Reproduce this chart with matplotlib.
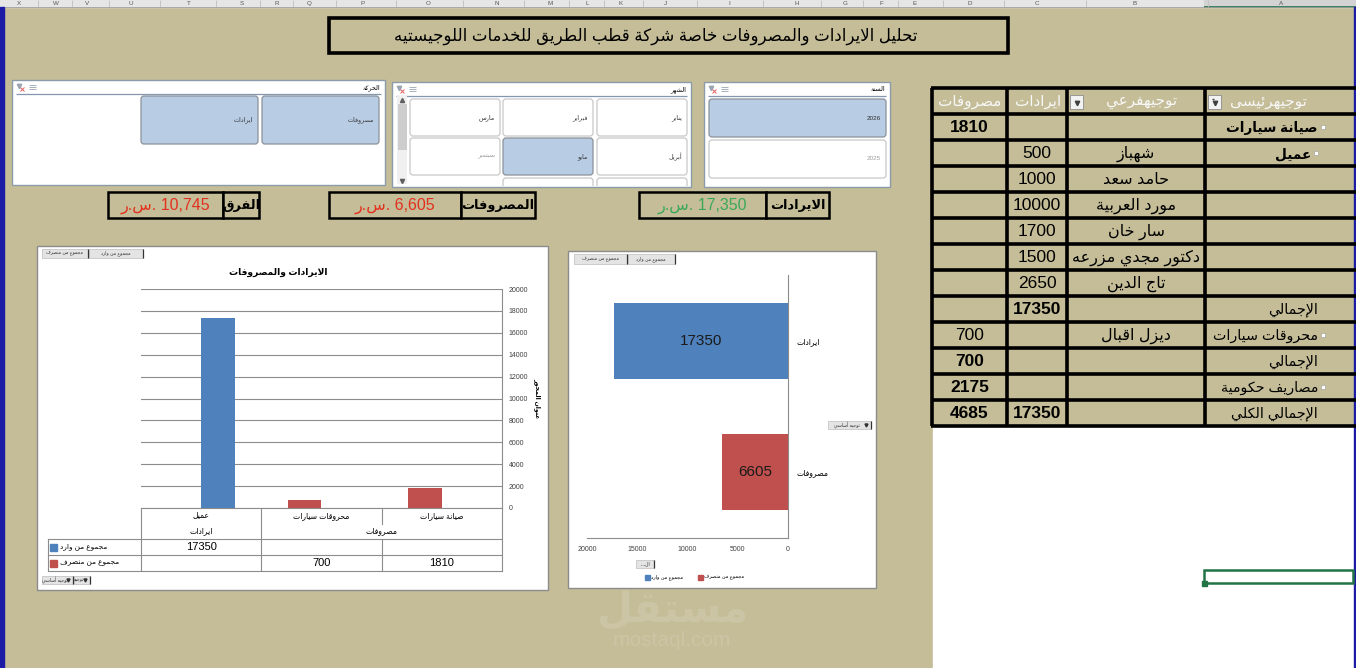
import matplotlib
matplotlib.use('Agg')
import matplotlib.pyplot as plt
from matplotlib.patches import Rectangle, FancyBboxPatch
from matplotlib.transforms import blended_transform_factory

plt.rcParams['font.family'] = ['Liberation Sans', 'DejaVu Sans']

# ---------------- Arabic shaping helper (presentation forms, visual order) -------------
_BASE = ['\u0621', '\u0622', '\u0623', '\u0624', '\u0625', '\u0626', '\u0627', '\u0628',
         '\u0629', '\u062A', '\u062B', '\u062C', '\u062D', '\u062E', '\u062F', '\u0630',
         '\u0631', '\u0632', '\u0633', '\u0634', '\u0635', '\u0636', '\u0637', '\u0638',
         '\u0639', '\u063A', '\u0641', '\u0642', '\u0643', '\u0644', '\u0645', '\u0646',
         '\u0647', '\u0648', '\u0649', '\u064A']
_NFORMS = [1, 2, 2, 2, 2, 4, 2, 4, 2, 4, 4, 4, 4, 4, 2, 2, 2, 2, 4, 4, 4, 4, 4, 4,
           4, 4, 4, 4, 4, 4, 4, 4, 4, 2, 2, 4]
_AR = {}
_code = 0xFE80
for _c, _n in zip(_BASE, _NFORMS):
    if _n == 1:
        _AR[_c] = (_code, None, None, None)
    elif _n == 2:
        _AR[_c] = (_code, _code + 1, None, None)
    else:
        _AR[_c] = (_code, _code + 1, _code + 2, _code + 3)
    _code += _n
_LAMALEF = {'\u0622': 0xFEF5, '\u0623': 0xFEF7, '\u0625': 0xFEF9, '\u0627': 0xFEFB}


def ar(s):
    out = []
    n = len(s)
    i = 0
    while i < n:
        c = s[i]
        if c not in _AR:
            out.append(c)
            i += 1
            continue
        prev = s[i - 1] if i > 0 else None
        jp = prev is not None and prev in _AR and _AR[prev][2] is not None
        if c == '\u0644' and i + 1 < n and s[i + 1] in _LAMALEF:
            out.append(chr(_LAMALEF[s[i + 1]] + (1 if jp else 0)))
            i += 2
            continue
        nxt = s[i + 1] if i + 1 < n else None
        f = _AR[c]
        jn = f[2] is not None and nxt is not None and nxt in _AR
        if jp and jn:
            code = f[3]
        elif jp:
            code = f[1] if f[1] else f[0]
        elif jn:
            code = f[2]
        else:
            code = f[0]
        out.append(chr(code))
        i += 1
    return ''.join(out)[::-1]


# ---------------------------------- DATA ----------------------------------------------
title_text = "تحليل الايرادات والمصروفات خاصة شركة قطب الطريق للخدمات اللوجيستيه"
col_letters = ["X", "W", "V", "U", "T", "S", "R", "Q", "P", "O", "N", "M", "L", "K", "J",
               "I", "H", "G", "F", "E", "D", "C", "B", "A"]

slicer_move_title = "الحركة"
slicer_move_items = ["مصروفات", "ايرادات"]
slicer_month_title = "الشهر"
slicer_month_items = ["يناير", "فبراير", "مارس", "أبريل", "مايو", "سبتمبر"]
slicer_month_state = ["on", "on", "on", "on", "sel", "off"]
slicer_year_title = "السنة"
slicer_year_items = ["2026", "2025"]
slicer_year_state = ["sel", "off"]

kpi_labels = ["الفرق", "المصروفات", "الايرادات"]
kpi_values = [10745, 6605, 17350]
kpi_currency = "ر.س."

tbl_headers = ["مصروفات", "ايرادات", "توجيهفرعي", "توجيهرئيسى"]
tbl_main = ["صيانة سيارات", "عميل", "", "", "", "", "", "الإجمالي", "محروقات سيارات",
            "الإجمالي", "مصاريف حكومية", "الإجمالي الكلي"]
tbl_sub = ["", "شهباز", "حامد سعد", "مورد العربية", "سار خان", "دكتور مجدي مزرعه",
           "تاج الدين", "", "ديزل اقبال", "", "", ""]
tbl_rev = [None, 500, 1000, 10000, 1700, 1500, 2650, 17350, None, None, None, 17350]
tbl_exp = [1810, None, None, None, None, None, None, None, 700, 700, 2175, 4685]
tbl_num_bold = [True, False, False, False, False, False, False, True, False, True, True, True]

c1_title = "الايرادات والمصروفات"
c1_axis_title = "عنوان المحور"
c1_categories = ["عميل", "محروقات سيارات", "صيانة سيارات"]
c1_groups = ["ايرادات", "مصروفات"]
c1_rev = [17350, None, None]
c1_exp = [None, 700, 1810]
c1_series = ["مجموع من وارد", "مجموع من منصرف"]
c1_yticks = [0, 2000, 4000, 6000, 8000, 10000, 12000, 14000, 16000, 18000, 20000]

c2_categories = ["ايرادات", "مصروفات"]
c2_values = [17350, 6605]
c2_xticks = [0, 5000, 10000, 15000, 20000]
c2_series = ["مجموع من وارد", "مجموع من منصرف"]

# ---------------------------------- STYLE ---------------------------------------------
W, H = 1356, 668
TAN = '#C4BD97'
BLUE = '#4F81BD'
RED = '#C0504D'
SEL = '#B8CCE4'
GRID = '#8C8C8C'

fig = plt.figure(figsize=(W / 100, H / 100), dpi=100)
bg = fig.add_axes([0, 0, 1, 1])
bg.set_xlim(0, W)
bg.set_ylim(H, 0)
bg.axis('off')


def fr(x0, y0, x1, y1):
    return [x0 / W, 1 - y1 / H, (x1 - x0) / W, (y1 - y0) / H]


def rect(x0, y0, x1, y1, **kw):
    bg.add_patch(Rectangle((x0, y0), x1 - x0, y1 - y0, **kw))


def line(xs, ys, **kw):
    bg.plot(xs, ys, solid_capstyle='butt', **kw)


# sheet background
rect(0, 0, W, H, color=TAN, zorder=0)
rect(933, 427, W, H, color='white', zorder=0.5)
# column header strip
rect(0, 0, W, 7, color='#E6E6E6', zorder=1)
rect(1204, 0, W, 7, color='#D3D3D3', zorder=1)
line([1204, W], [6.5, 6.5], color='#217346', lw=1.2, zorder=1.1)
col_x = [19, 56, 87, 131, 189, 242, 277, 309, 363, 428, 497, 550, 587, 621, 665, 729,
         797, 845, 881, 915, 970, 1037, 1135, 1281]
for i, (lt, cx) in enumerate(zip(col_letters, col_x)):
    bg.text(cx, 3.2, lt, fontsize=4.5, ha='center', va='center', color='#555555', zorder=2)
    if i < len(col_x) - 1:
        sx = (cx + col_x[i + 1]) / 2
        line([sx, sx], [0, 7], color='#BFBFBF', lw=0.6, zorder=1.5)
line([0, W], [7, 7], color='#9E9E9E', lw=0.6, zorder=1.6)
# window borders
rect(0, 7, 3.5, H, color='#1B1BA6', zorder=3)
rect(1353.5, 7, W, H, color='#1B1BA6', zorder=3)

# green selected cell
rect(1204, 570, 1353, 583, fill=False, ec='#217346', lw=1.8, zorder=3)
rect(1201.5, 580.5, 1206.5, 585.5, color='#217346', zorder=3.1)

# watermark
bg.text(672, 610, ar("مستقل"), fontsize=30, fontweight='bold', color='#CBC5A6',
        ha='center', va='center', zorder=0.6)
bg.text(672, 640, "mostaql.com", fontsize=15, color='#CBC5A6', ha='center', va='center',
        zorder=0.6)

# title
rect(328.5, 17.5, 1008, 53, fc=TAN, ec='black', lw=2.6, zorder=2)
bg.text(656, 36, ar(title_text), fontsize=12, ha='center', va='center', color='black',
        zorder=3)


# ---------------------------------- slicers -------------------------------------------
def slicer_frame(x0, y0, x1, y1, title):
    rect(x0, y0, x1, y1, fc='white', ec='#8C9BAA', lw=1.0, zorder=2)
    bg.text(x1 - 5, y0 + 7.5, ar(title), fontsize=4.6, ha='right', va='center', zorder=3)
    line([x0 + 4, x1 - 4], [y0 + 14, y0 + 14], color='#8497B0', lw=0.9, zorder=3)
    # clear-filter and multiselect icons
    bg.plot([x0 + 7], [y0 + 6], marker='v', ms=3.2, color='#9AA5B1', zorder=3)
    bg.plot([x0 + 9.5], [y0 + 8.5], marker='x', ms=2.2, color='#E06060', mew=0.7, zorder=3.1)
    for k in range(3):
        line([x0 + 17, x0 + 24], [y0 + 5 + 2.2 * k, y0 + 5 + 2.2 * k], color='#9AA5B1',
             lw=0.6, zorder=3)


def button(x0, y0, x1, y1, label, state, clip_bottom=None):
    fc = SEL if state == 'sel' else 'white'
    ec = '#8A9199' if state == 'sel' else '#C8C8C8'
    p = FancyBboxPatch((x0, y0), x1 - x0, y1 - y0,
                       boxstyle='round,pad=0,rounding_size=3', fc=fc, ec=ec, lw=0.9,
                       zorder=3)
    bg.add_patch(p)
    if clip_bottom is not None:
        clip = Rectangle((x0 - 2, y0 - 2), x1 - x0 + 4, clip_bottom - y0 + 2,
                         transform=bg.transData)
        p.set_clip_path(clip)
    if label:
        col = '#A0A0A0' if state == 'off' else '#333333'
        bg.text(x1 - 5, (y0 + y1) / 2, ar(label) if not label.isdigit() else label,
                fontsize=4.6, ha='right', va='center', color=col, zorder=4)


# movement slicer
slicer_frame(12, 80, 385, 185, slicer_move_title)
button(262, 96, 379, 144, slicer_move_items[0], 'sel')
button(141, 96, 258, 144, slicer_move_items[1], 'sel')

# month slicer
slicer_frame(392, 82, 691, 187, slicer_month_title)
mcols = [(597, 687), (503, 593), (410, 500)]
mrows = [(99, 136), (138, 175)]
for k, (lab, st) in enumerate(zip(slicer_month_items, slicer_month_state)):
    r, c = divmod(k, 3)
    button(mcols[c][0], mrows[r][0], mcols[c][1], mrows[r][1], lab, st)
for c in range(2):
    button(mcols[c][0], 178, mcols[c][1], 200, '', 'on', clip_bottom=186)
# scrollbar
rect(397, 96, 407, 184, fc='#F0F0F0', ec='none', zorder=3)
rect(397.5, 104, 406.5, 150, fc='#CDCDCD', ec='none', zorder=3.1)
bg.plot([402], [99.5], marker='^', ms=3, color='#606060', zorder=3.2)
bg.plot([402], [180.5], marker='v', ms=3, color='#606060', zorder=3.2)

# year slicer
slicer_frame(704, 82, 890, 187, slicer_year_title)
button(709, 99, 886, 137, slicer_year_items[0], slicer_year_state[0])
button(709, 140, 886, 178, slicer_year_items[1], slicer_year_state[1])

# ---------------------------------- KPI boxes -----------------------------------------
kpi_geom = [(108, 223, 259), (329, 461, 535), (639, 766, 829)]
kpi_colors = ['#E3301F', '#E3301F', '#3BA957']
for (x0, xm, x1), lab, val, col in zip(kpi_geom, kpi_labels, kpi_values, kpi_colors):
    rect(x0, 192, xm, 218, fc=TAN, ec='black', lw=1.8, zorder=2)
    rect(xm, 192, x1, 218, fc=TAN, ec='black', lw=1.8, zorder=2)
    bg.text((x0 + xm) / 2, 206, kpi_currency + " " + f"{val:,}", fontsize=11.5,
            color=col, ha='center', va='center', zorder=3)
    bg.text((xm + x1) / 2, 205, ar(lab), fontsize=9.3, fontweight='bold',
            color='black', ha='center', va='center', zorder=3)

# ---------------------------------- pivot table ---------------------------------------
tx = [932, 1007, 1067, 1205, 1356]
ty0, th = 88, 26
nrows = len(tbl_main) + 1
for k in range(nrows + 1):
    line([tx[0] - 1.2, W], [ty0 + k * th, ty0 + k * th], color='black', lw=2.6, zorder=4)
for x in tx[:-1]:
    line([x, x], [ty0, ty0 + nrows * th], color='black', lw=2.6, zorder=4)
hy = ty0 + th / 2
hx = [969.5, 1038, 1142, 1268]
for lab, x in zip(tbl_headers, hx):
    bg.text(x, hy + 1, ar(lab), fontsize=11, color='#F7F7F7', ha='center', va='center',
            zorder=5)
# dropdown / filter buttons in header
for bx in (1070, 1208):
    rect(bx, 95, bx + 13, 109, fc='#F2F2F2', ec='#8C8C8C', lw=0.6, zorder=5)
    bg.plot([bx + 6.5], [102.5], marker='v', ms=3.2, color='#404040', zorder=6)
line([1211.5, 1213.5], [99, 99], color='#404040', lw=1.0, zorder=6)

for r in range(len(tbl_main)):
    cy = ty0 + (r + 1) * th + th / 2 + 1
    wt = 'bold' if tbl_num_bold[r] else 'normal'
    if tbl_exp[r] is not None:
        bg.text(969.5, cy, str(tbl_exp[r]), fontsize=12.5, fontweight=wt, ha='center',
                va='center', zorder=5)
    if tbl_rev[r] is not None:
        bg.text(1037, cy, str(tbl_rev[r]), fontsize=12.5, fontweight=wt, ha='center',
                va='center', zorder=5)
    if tbl_sub[r]:
        bg.text(1136, cy, ar(tbl_sub[r]), fontsize=11.5, ha='center', va='center', zorder=5)
    if tbl_main[r]:
        expandable = tbl_main[r] in ("صيانة سيارات", "عميل", "محروقات سيارات",
                                     "مصاريف حكومية")
        xr = 1311 if tbl_main[r] == "عميل" else 1318
        mw = 'bold' if r < 2 else 'normal'
        fs = 9.8 if r < 2 else 10.3
        bg.text(xr, cy, ar(tbl_main[r]), fontsize=fs, fontweight=mw, ha='right',
                va='center', zorder=5)
        if expandable:
            rect(xr + 3, cy - 3, xr + 6.5, cy + 0.5, fc='white', ec='#9A9A9A', lw=0.4,
                 zorder=5)

# ---------------------------------- chart frames --------------------------------------
rect(37, 246, 548, 590, fc='white', ec='#8C8C8C', lw=1.0, zorder=2)
rect(568, 251, 876, 588, fc='white', ec='#8C8C8C', lw=1.0, zorder=2)


def field_button(x0, y0, x1, y1, label, arrow=False):
    rect(x0, y0, x1, y1, fc='#E4E4E4', ec='#BDBDBD', lw=0.5, zorder=3)
    line([x1, x1], [y0, y1], color='#333333', lw=0.9, zorder=3.1)
    bg.text((x0 + x1) / 2 + (-3 if arrow else 0), (y0 + y1) / 2, label, fontsize=3.3,
            ha='center', va='center', color='#333333', zorder=3.2)
    if arrow:
        bg.plot([x1 - 5], [(y0 + y1) / 2], marker='v', ms=2.2, color='#333333', zorder=3.2)


# chart 1 field buttons
field_button(42, 249, 88, 258, ar(c1_series[1]))
field_button(88.5, 249, 143, 258, ar(c1_series[0]))
field_button(42, 576, 73, 584, ar("توجيه أساسي"), arrow=True)
field_button(73.5, 576, 90, 584, ar("توجيه"), arrow=True)
# chart 2 field buttons
field_button(574, 254, 627, 264, ar(c2_series[1]))
field_button(627.5, 254, 675, 264, ar(c2_series[0]))
field_button(828, 421, 871, 429, ar("توجيه أساسي"), arrow=True)
field_button(636, 560, 654, 568, ar("الـ..."))

# ---------------------------------- chart 1 -------------------------------------------
ax1 = fig.add_axes(fr(141, 289, 502, 508))
ax1.patch.set_alpha(0)
xs = list(range(len(c1_categories)))
off, bw = 0.14, 0.28
rx = [x + off for x, v in zip(xs, c1_rev) if v is not None]
rv = [v for v in c1_rev if v is not None]
ex = [x - off for x, v in zip(xs, c1_exp) if v is not None]
ev = [v for v in c1_exp if v is not None]
ax1.bar(rx, rv, width=bw, color=BLUE, lw=0, zorder=3)
ax1.bar(ex, ev, width=bw, color=RED, lw=0, zorder=3)
ax1.set_xlim(-0.5, len(xs) - 0.5)
ax1.set_ylim(0, 20000)
ax1.set_yticks(c1_yticks)
ax1.yaxis.tick_right()
ax1.tick_params(axis='y', length=0, labelsize=5, pad=5, colors='#404040')
ax1.set_xticks([])
ax1.yaxis.grid(True, color=GRID, lw=0.8)
ax1.set_axisbelow(True)
for s in ['top', 'left']:
    ax1.spines[s].set_visible(False)
ax1.spines['right'].set_color(GRID)
ax1.spines['bottom'].set_color(GRID)
bg.text(278, 272, ar(c1_title), fontsize=6.6, fontweight='bold', ha='center', va='center',
        zorder=5)
ax1.yaxis.set_label_position('right')
ax1.set_ylabel(ar(c1_axis_title), fontsize=4.5, fontweight='bold', rotation=270,
               labelpad=9)

# data table under chart 1 (x from category axis, y in sheet pixels)
tr = blended_transform_factory(ax1.transData, bg.transData)
kw = dict(transform=tr, clip_on=False, color=GRID, lw=0.8, zorder=4)
ax1.plot([-0.5, -0.5], [508, 571], **kw)
ax1.plot([0.5, 0.5], [508, 571], **kw)
ax1.plot([1.5, 1.5], [508, 524], **kw)
ax1.plot([1.5, 1.5], [539, 571], **kw)
ax1.plot([2.5, 2.5], [508, 571], **kw)
x48 = ax1.transData.inverted().transform(bg.transData.transform((48, 0)))[0]
for yy in (539, 555, 571):
    ax1.plot([x48, 2.5], [yy, yy], **kw)
ax1.plot([x48, x48], [539, 571], **kw)
for x, cat in zip(xs, c1_categories):
    ax1.text(x, 516, ar(cat), transform=tr, fontsize=5.5, ha='center', va='center',
             clip_on=False)
ax1.text(0, 531, ar(c1_groups[0]), transform=tr, fontsize=5.5, ha='center', va='center')
ax1.text(1.5, 531, ar(c1_groups[1]), transform=tr, fontsize=5.5, ha='center', va='center')
for x, v in zip(xs, c1_rev):
    if v is not None:
        ax1.text(x, 547, str(v), transform=tr, fontsize=8, ha='center', va='center')
for x, v in zip(xs, c1_exp):
    if v is not None:
        ax1.text(x, 563, str(v), transform=tr, fontsize=8, ha='center', va='center')
for yy, name, col in ((547, c1_series[0], BLUE), (563, c1_series[1], RED)):
    rect(50, yy - 3.5, 57, yy + 3.5, color=col, zorder=5)
    bg.text(60, yy, ar(name), fontsize=5.3, ha='left', va='center', zorder=5)

# ---------------------------------- chart 2 -------------------------------------------
ax2 = fig.add_axes(fr(587, 275, 788, 538))
ax2.patch.set_alpha(0)
ys = list(range(len(c2_categories)))
bars = ax2.barh(ys, c2_values, height=0.58, color=[BLUE, RED], lw=0, zorder=3)
ax2.bar_label(bars, label_type='center', fontsize=11, color='#1A1A1A')
ax2.set_xlim(20000, 0)
ax2.set_ylim(len(ys) - 0.5, -0.5)
ax2.set_xticks(c2_xticks)
ax2.set_yticks(ys)
ax2.set_yticklabels([ar(c) for c in c2_categories])
ax2.yaxis.tick_right()
ax2.tick_params(axis='y', length=0, labelsize=5.5, pad=6)
ax2.tick_params(axis='x', length=0, labelsize=5, pad=6, colors='#404040')
for s in ['top', 'left']:
    ax2.spines[s].set_visible(False)
ax2.spines['right'].set_color(GRID)
ax2.spines['bottom'].set_color(GRID)
# legend of chart 2
for xk, name, col in ((647, c2_series[0], BLUE), (700, c2_series[1], RED)):
    rect(xk - 2.5, 574.5, xk + 2.5, 579.5, color=col, zorder=5)
    bg.text(xk + 4, 577, ar(name), fontsize=3.6, ha='left', va='center', zorder=5)

fig.savefig('out.png', dpi=100)
